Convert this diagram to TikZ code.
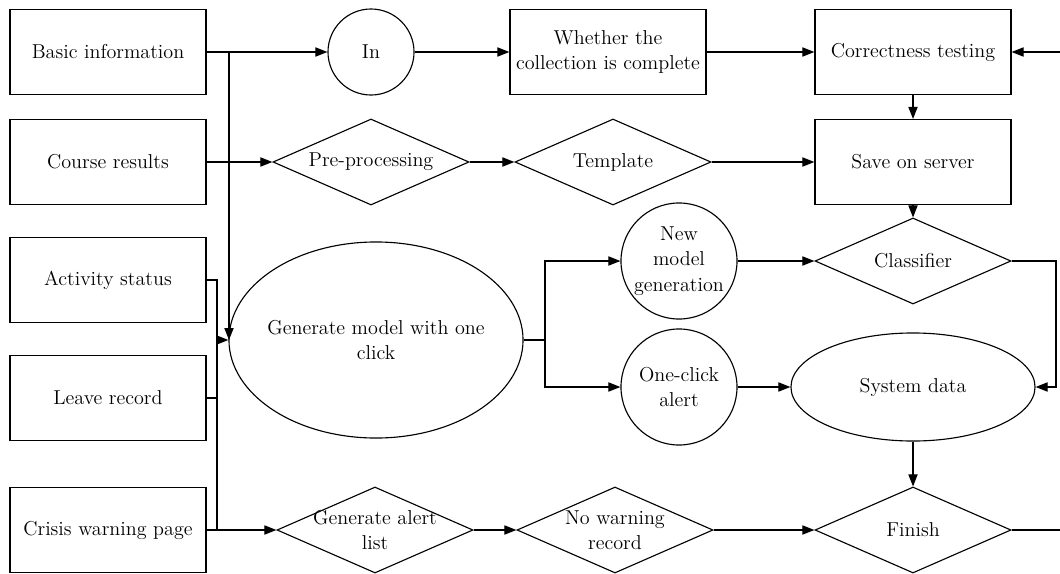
\documentclass[tikz,border=0pt]{standalone}
\usepackage{tikz}
\usetikzlibrary{shapes.geometric, arrows.meta, positioning, calc}

\begin{document}
\begin{tikzpicture}[x=0.025cm, y=-0.025cm, >={Triangle[length=3mm, width=2.3mm]}, line width=0.8pt,
    every node/.style={font=\fontsize{14.3}{18}\selectfont},
    block/.style={draw, rectangle, minimum width=4.9cm, minimum height=2.125cm, align=center, inner sep=0pt},
    decision/.style={draw, diamond, minimum width=4.9cm, minimum height=2.15cm, inner sep=0pt},
    roundnode/.style={draw, circle, minimum size=#1, inner sep=0pt},
    oval/.style={draw, ellipse, inner sep=0pt},
    mid/.style={label={[align=center]center:#1}}]
    \useasboundingbox (0,0) rectangle (1060,573);

    % inputs on the left
    \node[block] (basic) at (108,52) {Basic information};
    \node[block] (course) at (108,162) {Course results};
    \node[block] (activity) at (108,280) {Activity status};
    \node[block] (leave) at (108,398) {Leave record};
    \node[block] (crisis) at (108,530) {Crisis warning page};

    % top rows
    \node[roundnode=2.15cm] (in) at (371,52) {In};
    \node[block] (whether) at (608,52) {Whether the\\collection is complete};
    \node[block] (correct) at (913,52) {Correctness testing};
    \node[decision, mid={Pre-processing}] (pre) at (371,162) {};
    \node[decision, mid={Template}] (template) at (613,162) {};
    \node[block] (save) at (913,162) {Save on server};

    % middle
    \node[oval, minimum width=7.35cm, minimum height=4.9cm, mid={Generate model with one\\click}] (gen) at (376,340) {};
    \node[roundnode=2.9cm, mid={New\\model\\generation}] (newm) at (679,261) {};
    \node[roundnode=2.9cm, mid={One-click\\alert}] (onec) at (679,387) {};
    \node[decision, mid={Classifier}] (cls) at (913,261) {};
    \node[oval, minimum width=6.1cm, minimum height=2.7cm] (sys) at (913,387) {System data};

    % bottom row
    \node[decision, mid={Generate alert\\list}] (alert) at (375,530) {};
    \node[decision, mid={No warning\\record}] (nowarn) at (615,530) {};
    \node[decision, mid={Finish}] (finish) at (913,530) {};

    % junctions and loose ends
    \coordinate (j1) at (229,52);
    \coordinate (j2) at (217,280);
    \coordinate (j3) at (545,340);
    \coordinate (j4) at (1056,261);
    \coordinate (edge1) at (1060,52);
    \coordinate (edge2) at (1060,530);

    % connectors
    \draw[->] (basic.east) -- (in.west);
    \draw[->] (j1) -- (j1 |- gen.west);
    \draw[->] (course.east) -- (pre.west);
    \draw[->] (in.east) -- (whether.west);
    \draw[->] (whether.east) -- (correct.west);
    \draw[->] (edge1) -- (correct.east);
    \draw[->] (correct.south) -- (save.north);
    \draw[->] (pre.east) -- (template.west);
    \draw[->] (template.east) -- (save.west);
    \draw[->] (save.south) -- (cls.north);

    \draw (activity.east) -- (j2) -- (j2 |- crisis.east);
    \draw (leave.east) -- (leave.east -| j2);
    \draw[->] (j2 |- gen.west) -- (gen.west);
    \draw[->] (crisis.east) -- (alert.west);

    \draw (gen.east) -- (j3);
    \draw[->] (j3) |- (newm.west);
    \draw[->] (j3) |- (onec.west);
    \draw[->] (newm.east) -- (cls.west);
    \draw[->] (onec.east) -- (sys.west);
    \draw[->] (cls.east) -- (j4) |- (sys.east);
    \draw[->] (sys.south) -- (finish.north);

    \draw[->] (alert.east) -- (nowarn.west);
    \draw[->] (nowarn.east) -- (finish.west);
    \draw (finish.east) -- (edge2);
\end{tikzpicture}
\end{document}
